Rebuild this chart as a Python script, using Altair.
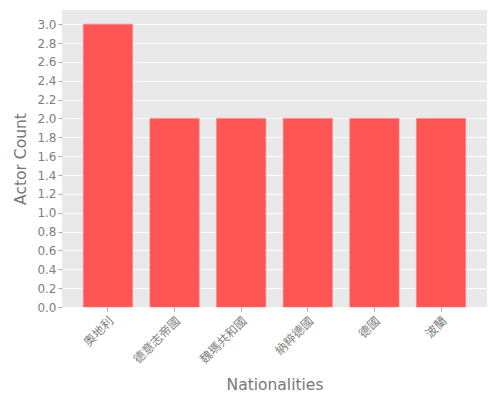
import altair as alt
import pandas as pd

nationalities = ["奧地利", "德意志帝國", "魏瑪共和國", "納粹德國", "德國", "波蘭"]
counts = [3, 2, 2, 2, 2, 2]

df = pd.DataFrame({"Nationalities": nationalities, "Actor Count": counts})

font = "DejaVu Sans"
cjk = "Noto Sans CJK TC"

chart = alt.Chart(df).mark_bar(color="#FF5555", stroke="#FF8080", strokeWidth=0.6).encode(
    x=alt.X("Nationalities:N", sort=nationalities,
            scale=alt.Scale(paddingInner=0.26, paddingOuter=0.32),
            axis=alt.Axis(labelAngle=-45, labelFont=cjk, labelFontSize=12,
                          labelColor="#808080", titleFont=font, titleFontSize=15.5,
                          titleColor="#777777", titleFontWeight=500,
                          tickColor="#aaaaaa", tickSize=4, domain=False,
                          labelPadding=4, titlePadding=12)),
    y=alt.Y("Actor Count:Q", scale=alt.Scale(domain=[0, 3.15], nice=False),
            axis=alt.Axis(values=[round(i * 0.2, 1) for i in range(16)], format=".1f",
                          labelFont=font, labelFontSize=12, labelColor="#808080",
                          titleFont=font, titleFontSize=15.5, titleColor="#777777",
                          titleFontWeight=500, tickColor="#aaaaaa", tickSize=4,
                          domain=False, gridColor="white", gridWidth=1, titlePadding=8)),
).properties(
    width=425, height=297,
    padding={"left": 5, "top": 2, "right": 2, "bottom": 5},
).configure_view(fill="#E9E9E9", stroke=None)

chart.save("out.html", embed_options={"renderer": "svg", "actions": False})
